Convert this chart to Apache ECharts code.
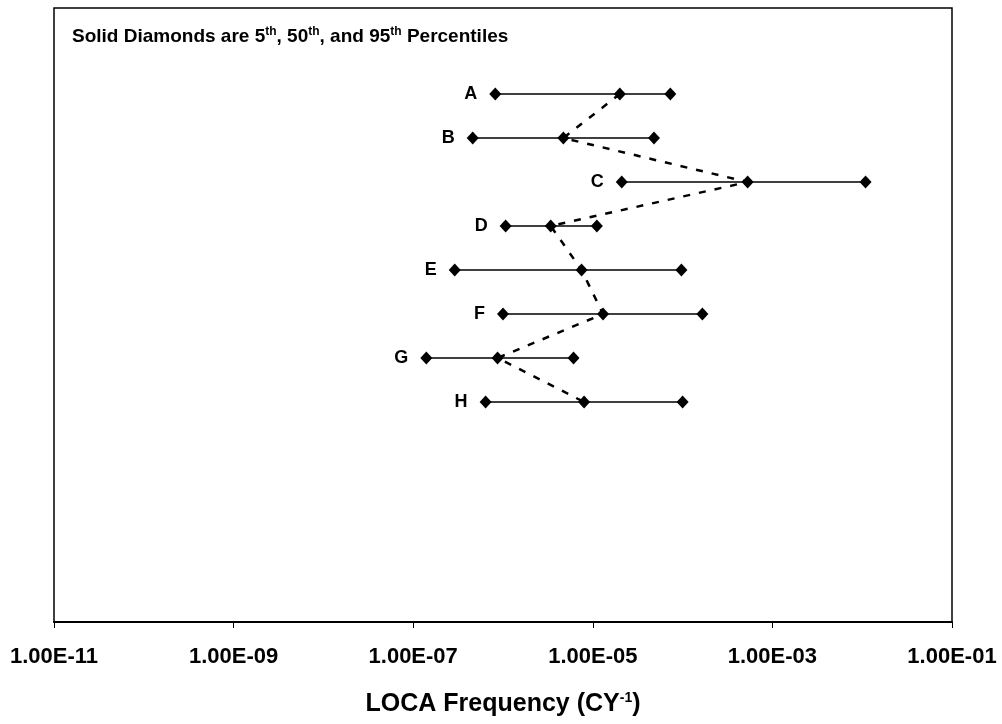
<!DOCTYPE html>
<html>
<head>
<meta charset="utf-8">
<script src="https://cdn.jsdelivr.net/npm/echarts@6/dist/echarts.min.js"></script>
<style>html,body{margin:0;padding:0;background:#fff;}#c{width:1002px;height:724px;}</style>
</head>
<body>
<div id="c"></div>
<script>
const categories = ['A', 'B', 'C', 'D', 'E', 'F', 'G', 'H'];
const p5  = [8.2e-7, 4.6e-7, 2.1e-5, 1.07e-6, 2.9e-7, 1.0e-6, 1.4e-7, 6.4e-7];
const p50 = [2.0e-5, 4.7e-6, 5.3e-4, 3.4e-6, 7.5e-6, 1.3e-5, 8.7e-7, 8.0e-6];
const p95 = [7.3e-5, 4.8e-5, 1.09e-2, 1.11e-5, 9.7e-5, 1.66e-4, 6.1e-6, 1.0e-4];
const xTickLabels = {'-11': '1.00E-11', '-9': '1.00E-09', '-7': '1.00E-07', '-5': '1.00E-05', '-3': '1.00E-03', '-1': '1.00E-01'};

const FONT = 'Liberation Sans, Arial, sans-serif';
const chart = echarts.init(document.getElementById('c'), null, {renderer: 'canvas'});

const rowPos = i => i + 2;
const series = [];
series.push({
  type: 'line',
  data: categories.map((c, i) => [p50[i], rowPos(i)]),
  symbol: 'none',
  lineStyle: {color: '#000', width: 2.5, type: [7, 9]},
  z: 1,
  silent: true,
  animation: false
});
categories.forEach((c, i) => {
  series.push({
    type: 'line',
    name: c,
    data: [
      {value: [p5[i], rowPos(i)], label: {show: true, formatter: c, position: 'left', distance: 12,
        color: '#000', fontSize: 18, fontWeight: 'bold', fontFamily: FONT}},
      {value: [p50[i], rowPos(i)]},
      {value: [p95[i], rowPos(i)]}
    ],
    symbol: 'diamond',
    symbolSize: [12, 13],
    itemStyle: {color: '#000'},
    lineStyle: {color: '#000', width: 1.5},
    z: 3,
    animation: false
  });
});

chart.setOption({
  animation: false,
  backgroundColor: '#fff',
  title: {
    text: '{b|Solid Diamonds are 5}{s|th}{b|, 50}{s|th}{b|, and 95}{s|th}{b| Percentiles}',
    left: 72, top: 26, padding: 0,
    textStyle: {
      rich: {
        b: {fontSize: 19, fontWeight: 'bold', fontFamily: FONT, color: '#000', lineHeight: 22},
        s: {fontSize: 12, fontWeight: 'bold', fontFamily: FONT, color: '#000', verticalAlign: 'top', lineHeight: 22}
      }
    }
  },
  grid: {left: 54, right: 50, top: 8, bottom: 102, show: true, borderColor: '#000', borderWidth: 1.5, containLabel: false},
  xAxis: {
    type: 'log',
    logBase: 10,
    min: 1e-11,
    max: 1e-1,
    interval: 2,
    name: 'LOCA Frequency (CY{s|-1})',
    nameLocation: 'middle',
    nameGap: 69,
    nameTextStyle: {
      fontSize: 25, fontWeight: 'bold', fontFamily: FONT, color: '#000',
      rich: {s: {fontSize: 14, fontWeight: 'bold', fontFamily: FONT, color: '#000', verticalAlign: 'top', lineHeight: 26}}
    },
    axisLine: {show: true, lineStyle: {color: '#000', width: 2}},
    axisTick: {show: true, inside: false, length: 6, lineStyle: {color: '#000', width: 1}},
    axisLabel: {
      margin: 24, fontSize: 22, fontWeight: 'bold', fontFamily: FONT, color: '#000',
      formatter: v => xTickLabels[String(Math.round(Math.log10(v)))] || ''
    },
    splitLine: {show: false},
    minorTick: {show: false}
  },
  yAxis: {
    type: 'value',
    inverse: true,
    min: 0.045,
    max: 14,
    show: false,
    splitLine: {show: false}
  },
  series: series
});
</script>
</body>
</html>
